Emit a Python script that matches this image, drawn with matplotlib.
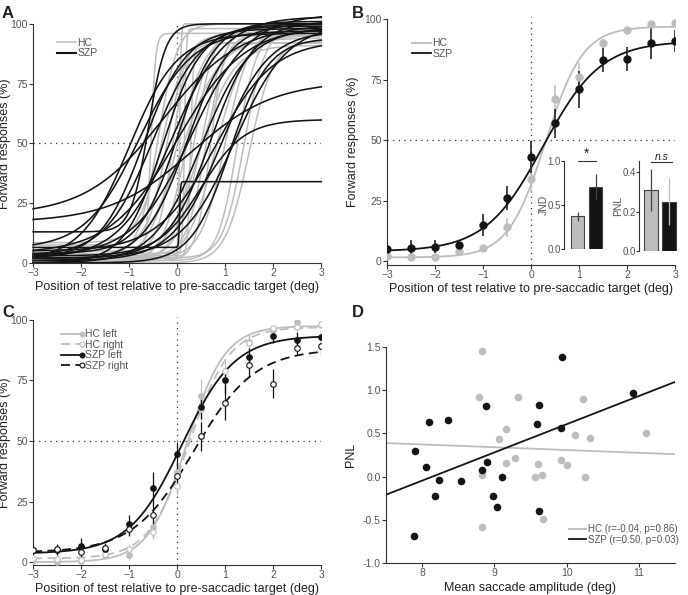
import numpy as np
import matplotlib.pyplot as plt
from matplotlib.lines import Line2D
from matplotlib.legend_handler import HandlerLine2D

plt.rcParams['font.family'] = ['Liberation Sans', 'DejaVu Sans']

GRAY = '#bdbdbd'
BLACK = '#141414'
TXT = '#222222'
TICK = '#555555'

## ---------- data ----------
# panel A: single subject fits (PSE, spread, lower %, upper %)
hcA_mu = [-0.55, 0.05, 0.15, 0.28, -0.3, -0.2, 0.0, 0.2, 0.35, 0.5, 0.6, 0.8, 1.0, 1.25, 1.4, 1.5, -0.1, 0.45, 0.1, -0.4, 0.7]
hcA_s = [0.05, 0.015, 0.02, 0.03, 0.25, 0.2, 0.3, 0.25, 0.2, 0.25, 0.2, 0.3, 0.25, 0.2, 0.22, 0.25, 0.15, 0.35, 0.4, 0.2, 0.15]
hcA_lo = [1, 2, 4, 3, 8.5, 7.5, 1, 0, 2, 1, 3, 0, 2, 1, 2, 0, 5, 0, 2, 3, 1]
hcA_hi = [96, 100, 98, 92, 96, 95, 97, 99, 98, 100, 96, 95, 98, 97, 99, 93, 92, 91, 94, 100, 99]

szA_mu = [-0.3, 0.3, -0.6, 0.05, 0.5, -1.0, -0.7, -0.5, -0.3, -0.1, 0.0, 0.2, 0.3, 0.5, 0.7, 0.9, 1.1, 1.2, 0.0, 0.8, -0.8]
szA_s = [0.8, 0.85, 0.18, 0.01, 0.45, 0.5, 0.45, 0.5, 0.4, 0.55, 0.4, 0.45, 0.6, 0.5, 0.45, 0.5, 0.4, 0.55, 0.7, 0.6, 0.55]
szA_lo = [20, 17, 13, 6.5, 3, 1, 2, 3, 0, 2, 4, 1, 3, 0, 2, 1, 0, 2, 4, 5, 6]
szA_hi = [100, 76, 100, 34, 60, 96, 98, 100, 99, 103, 101, 100, 104, 98, 101, 97, 94, 100, 99, 93, 97]

# panel B: group means
pos = [-3, -2.5, -2, -1.5, -1, -0.5, 0, 0.5, 1, 1.5, 2, 2.5, 3]
hcB = [2, 1.5, 1.5, 4, 5.5, 14, 34, 67, 76, 90, 95.5, 98, 98.5]
hcB_err = [1, 0.5, 0.5, 1, 1, 4, 6, 6, 6, 2, 1, 1, 1]
szB = [5, 5.5, 6, 6.5, 15, 26, 43, 57, 71, 83, 83.5, 90, 91]
szB_err = [2.5, 3, 2.5, 1.5, 4.5, 5, 6.5, 6, 7.5, 5, 5, 6.5, 4.5]
fitB = {'HC': (0.3, 0.39, 1.5, 97), 'SZP': (0.25, 0.6, 4, 91)}

# inset bars
grp = ['HC', 'SZP']
jnd = [0.37, 0.71]
jnd_err = [0.05, 0.14]
pnl = [0.31, 0.25]
pnl_err = [0.105, 0.12]

# panel C: left / right saccades
hcL = [0.5, 0, 0.5, 3, 3, 14.5, 37, 68.5, 75, 91, 96, 99.2, 98]
hcL_err = [0.5, 0.5, 0.5, 1, 2, 4, 4, 7, 5, 3, 1, 1, 1]
hcR = [1.5, 1.4, 1, 3.5, 5.5, 12.5, 31.5, 63, 79, 90.3, 96.5, 97, 98.3]
hcR_err = [1, 1, 1, 1, 2, 3, 4, 5, 4, 3, 1, 1, 1]
szL = [5, 5, 6.8, 5.5, 15.6, 30.5, 44.6, 64, 75, 84.5, 93.4, 91.8, 92.9]
szL_err = [1, 2, 3, 2, 4, 6.5, 5, 5, 5, 4, 3, 3, 3]
szR = [5.2, 5.3, 4.1, 6, 13.8, 19.5, 35.5, 52, 65.8, 81.4, 73.6, 88.4, 89.3]
szR_err = [2, 2, 2.5, 2, 3, 5, 5, 6, 7, 5, 6, 3, 4]
fitC = {'HC left': (0.2, 0.4, 0, 97.5), 'HC right': (0.25, 0.42, 1.5, 97),
        'SZP left': (0.1, 0.55, 3.5, 93.5), 'SZP right': (0.35, 0.63, 4, 88)}

# panel D: saccade amplitude vs PNL
hc_amp = [8.83, 8.79, 8.83, 8.83, 9.06, 9.16, 9.16, 9.28, 9.33, 9.56, 9.60, 9.66, 9.67, 9.92, 10.0, 10.12, 10.23, 10.26, 10.33, 11.10]
hc_pnl = [1.45, 0.92, 0.02, -0.58, 0.44, 0.55, 0.16, 0.22, 0.92, 0.0, 0.15, 0.02, -0.49, 0.19, 0.13, 0.48, 0.90, -0.01, 0.45, 0.50]
sz_amp = [7.90, 8.05, 8.09, 8.18, 8.24, 8.36, 8.54, 7.89, 8.83, 8.88, 8.90, 8.98, 9.04, 9.11, 9.59, 9.62, 9.62, 9.92, 9.93, 10.92]
sz_pnl = [0.30, 0.11, 0.63, -0.23, -0.04, 0.66, -0.05, -0.69, 0.08, 0.82, 0.17, -0.23, -0.35, 0.0, 0.61, 0.83, -0.40, 0.56, 1.38, 0.97]


def psy(x, mu, s, lo, hi):
    return lo + (hi - lo) / (1 + np.exp(-(x - mu) / s))


def style(ax):
    for sp in ['top', 'right']:
        ax.spines[sp].set_visible(False)
    for sp in ['left', 'bottom']:
        ax.spines[sp].set_linewidth(0.8)
        ax.spines[sp].set_color('#333333')
    ax.tick_params(direction='out', length=3, width=0.8, color='#333333',
                   labelsize=7.5, labelcolor=TICK, pad=0.8)


def psy_axes(ax, ylo, ylab_x):
    style(ax)
    ax.set_xlim(-3, 3)
    ax.set_ylim(ylo, 100)
    ax.set_xticks(range(-3, 4))
    ax.set_yticks([0, 25, 50, 75, 100])
    ax.axhline(50, color='#333333', lw=0.9, ls=(0, (1, 3.5)), zorder=0)
    ax.plot([0, 0], [ylo, 101], color='#333333', lw=0.9, ls=(0, (1, 3.5)), zorder=0, clip_on=False)
    ax.set_xlabel('Position of test relative to pre-saccadic target (deg)', fontsize=9, color=TXT, labelpad=2)
    ax.set_ylabel('Forward responses (%)', fontsize=9, color=TXT)
    ax.yaxis.set_label_coords(ylab_x, 0.5)


fig = plt.figure(figsize=(6.88, 5.95), dpi=100)
xx = np.linspace(-3, 3, 1201)

## ---------- A ----------
axA = fig.add_axes([0.048, 0.558, 0.419, 0.402])
psy_axes(axA, 0, -0.076)
for i in range(len(hcA_mu)):
    axA.plot(xx, psy(xx, hcA_mu[i], hcA_s[i], hcA_lo[i], hcA_hi[i]), color=GRAY, lw=1.1, clip_on=False)
for i in range(len(szA_mu)):
    axA.plot(xx, psy(xx, szA_mu[i], szA_s[i], szA_lo[i], szA_hi[i]), color=BLACK, lw=1.15, clip_on=False)
axA.legend(handles=[Line2D([], [], color=GRAY, lw=1.1, label='HC'),
                    Line2D([], [], color=BLACK, lw=1.5, label='SZP')],
           loc='upper left', bbox_to_anchor=(0.05, 0.98), frameon=False, fontsize=7.5,
           handlelength=1.8, handletextpad=0.15, labelspacing=0.05, labelcolor=TICK)

## ---------- B ----------
axB = fig.add_axes([0.5625, 0.5546, 0.419, 0.413])
psy_axes(axB, -1.65, -0.097)
for key, col, ys, es in [('HC', GRAY, hcB, hcB_err), ('SZP', BLACK, szB, szB_err)]:
    axB.plot(xx, psy(xx, *fitB[key]), color=col, lw=1.3, label=key)
    axB.errorbar(pos, ys, yerr=es, fmt='o', color=col, ms=5, elinewidth=1.1, capsize=0, zorder=3)
axB.legend(loc='upper left', bbox_to_anchor=(0.055, 0.96), frameon=False, fontsize=7.5,
           handlelength=1.8, handletextpad=0.15, labelspacing=0.05, labelcolor=TICK)

# JND inset
axJ = fig.add_axes([0.8198, 0.5815, 0.0589, 0.1479])
style(axJ)
axJ.spines['bottom'].set_visible(False)
axJ.set_xticks([])
axJ.set_xlim(-0.75, 1.5)
axJ.set_ylim(0, 1.0)
axJ.set_yticks([0, 0.5, 1.0])
axJ.set_yticklabels(['0.0', '0.5', '1.0'])
axJ.tick_params(axis='y', length=2, pad=0.5, labelsize=7)
axJ.bar([0, 1], jnd, width=0.72, color=[GRAY, BLACK], edgecolor='#444444', lw=0.8)
axJ.errorbar([0, 1], jnd, yerr=jnd_err, fmt='none', ecolor='#444444', elinewidth=0.9, capsize=0)
axJ.plot([0.0, 1.0], [1.0, 1.0], color='#333333', lw=0.8, clip_on=False)
axJ.text(0.5, 1.0, '*', ha='center', va='bottom', fontsize=10, color=TXT)
axJ.set_ylabel('JND', fontsize=7.5, color=TICK, labelpad=-1)

# PNL inset
axP = fig.add_axes([0.9288, 0.578, 0.0567, 0.151])
style(axP)
axP.spines['bottom'].set_visible(False)
axP.set_xticks([])
axP.set_xlim(-0.667, 1.5)
axP.set_ylim(0, 0.456)
axP.set_yticks([0, 0.2, 0.4])
axP.set_yticklabels(['0.0', '0.2', '0.4'])
axP.tick_params(axis='y', length=2, pad=0.5, labelsize=7)
axP.bar([0, 1], pnl, width=0.78, color=[GRAY, BLACK], edgecolor='#444444', lw=0.8)
axP.errorbar([0], pnl[0], yerr=pnl_err[0], fmt='none', ecolor='#444444', elinewidth=0.9, capsize=0)
axP.errorbar([1], pnl[1], yerr=pnl_err[1], fmt='none', ecolor=GRAY, elinewidth=0.9, capsize=0)
axP.plot([0.0, 1.15], [0.452, 0.452], color='#333333', lw=0.8, clip_on=False)
axP.text(0.6, 0.452, 'n.s', ha='center', va='bottom', fontsize=7.5, style='italic', color=TXT)
axP.set_ylabel('PNL', fontsize=7.5, color=TICK, labelpad=-1)

## ---------- C ----------
axC = fig.add_axes([0.048, 0.0504, 0.419, 0.412])
psy_axes(axC, -1.2, -0.076)
seriesC = [('HC left', GRAY, '-', GRAY, hcL, hcL_err),
           ('HC right', GRAY, (0, (5, 3)), 'white', hcR, hcR_err),
           ('SZP left', BLACK, '-', BLACK, szL, szL_err),
           ('SZP right', BLACK, (0, (5, 3)), 'white', szR, szR_err)]
handles = []
for name, col, ls, fc, ys, es in seriesC:
    axC.plot(xx, psy(xx, *fitC[name]), color=col, lw=1.3, ls=ls)
    axC.errorbar(pos, ys, yerr=es, fmt='none', ecolor=col, elinewidth=0.9, capsize=0, zorder=3)
    axC.plot(pos, ys, 'o', ms=4, mfc=fc, mec=col, mew=0.8, zorder=4)
    handles.append(Line2D([], [], color=col, ls=ls, lw=1.3, marker='o', ms=3.5, mfc=fc, mec=col, mew=0.8, label=name))


class EndMarker(HandlerLine2D):
    def create_artists(self, *args, **kwargs):
        arts = super().create_artists(*args, **kwargs)
        for a in arts:
            a.set_markevery([len(a.get_xdata()) - 1])
        return arts


axC.legend(handles=handles, loc='upper left', bbox_to_anchor=(0.065, 1.0), frameon=False, fontsize=7.5,
           handlelength=2.0, handletextpad=0.3, labelspacing=0.05, labelcolor=TICK,
           handler_map={Line2D: EndMarker()})

## ---------- D ----------
axD = fig.add_axes([0.561, 0.0538, 0.420, 0.363])
style(axD)
axD.set_xlim(7.5, 11.5)
axD.set_ylim(-1.0, 1.5)
axD.set_xticks([8, 9, 10, 11])
axD.set_yticks([-1.0, -0.5, 0.0, 0.5, 1.0, 1.5])
axD.set_yticklabels(['-1.0', '-0.5', '0.0', '0.5', '1.0', '1.5'])
axD.scatter(hc_amp, hc_pnl, s=30, color=GRAY, zorder=3, linewidths=0)
axD.scatter(sz_amp, sz_pnl, s=30, color=BLACK, zorder=3, linewidths=0)
xl = np.array([7.5, 11.5])
k_hc = np.polyfit(hc_amp, hc_pnl, 1)
k_sz = np.polyfit(sz_amp, sz_pnl, 1)
axD.plot(xl, np.polyval(k_hc, xl), color=GRAY, lw=1.3, label='HC (r=-0.04, p=0.86)', zorder=2)
axD.plot(xl, np.polyval(k_sz, xl), color=BLACK, lw=1.3, label='SZP (r=0.50, p=0.03)', zorder=2)
axD.legend(loc='lower right', bbox_to_anchor=(1.045, 0.045), frameon=False, fontsize=7,
           handlelength=1.75, handletextpad=0.25, labelspacing=0.05, labelcolor=TICK)
axD.set_xlabel('Mean saccade amplitude (deg)', fontsize=9, color=TXT, labelpad=3)
axD.set_ylabel('PNL', fontsize=9, color=TXT)
axD.yaxis.set_label_coords(-0.1, 0.5)

## panel letters
for lab, x, y in [('A', 0.003, 0.970), ('B', 0.511, 0.970), ('C', 0.003, 0.467), ('D', 0.511, 0.467)]:
    fig.text(x, y, lab, fontsize=12, fontweight='bold', va='baseline', color=TXT)

plt.savefig('out.png', dpi=100)
